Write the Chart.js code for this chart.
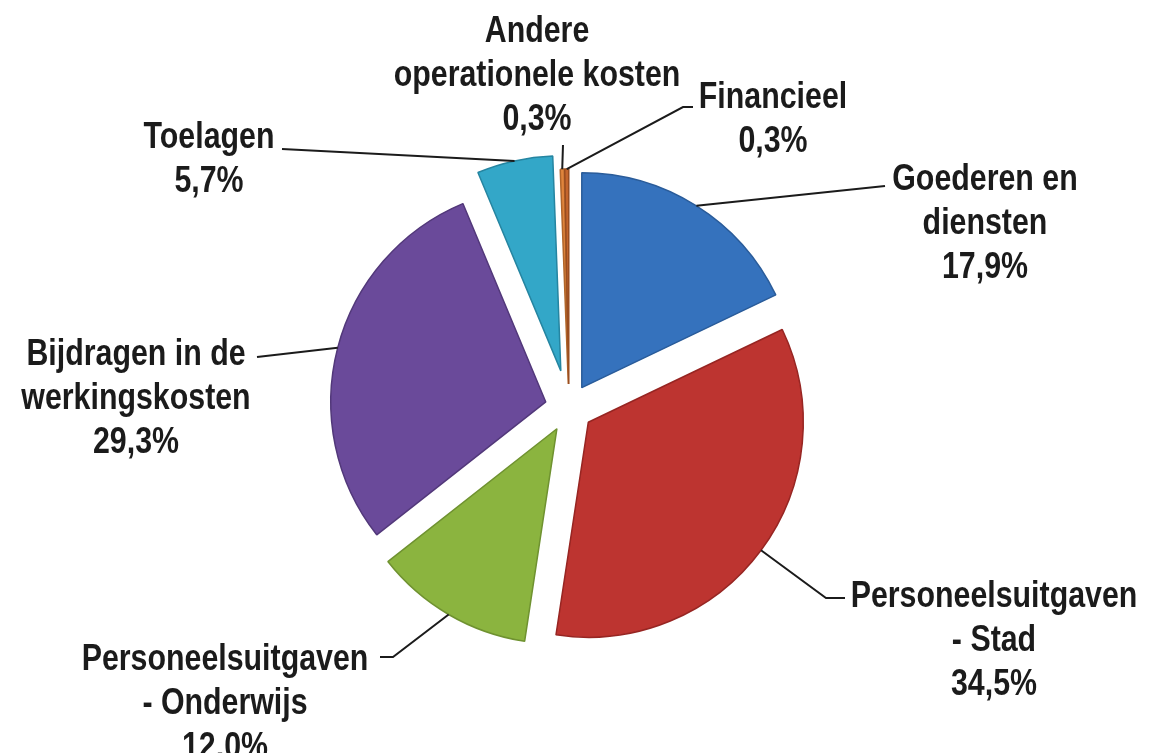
<!DOCTYPE html>
<html>
<head>
<meta charset="utf-8">
<script src="https://cdn.jsdelivr.net/npm/chart.js@4.4.1/dist/chart.umd.min.js"></script>
<style>
  html, body { margin: 0; padding: 0; background: #fff; }
  canvas { display: block; }
</style>
</head>
<body>
<canvas id="pieChart" width="1151" height="753"></canvas>
<script>
// Data
const categories = [
    'Goederen en diensten',
    'Personeelsuitgaven - Stad',
    'Personeelsuitgaven - Onderwijs',
    'Bijdragen in de werkingskosten',
    'Toelagen',
    'Andere operationele kosten',
    'Financieel'
];
const shares = [17.9, 34.5, 12.0, 29.3, 5.7, 0.3, 0.3];
const labelLines = [
    ['Goederen en', 'diensten'],
    ['Personeelsuitgaven', '- Stad'],
    ['Personeelsuitgaven', '- Onderwijs'],
    ['Bijdragen in de', 'werkingskosten'],
    ['Toelagen'],
    ['Andere', 'operationele kosten'],
    ['Financieel']
];

// Styles
const colors = ['#3572BD', '#BD3430', '#8BB43F', '#6A4A9A', '#33A7C8', '#E0843C', '#C4652C'];
const borders = ['#2A5C9A', '#972522', '#6F9230', '#52387A', '#2585A1', '#B0652A', '#9A4D20'];
const explode = [24, 24, 24, 24, 38, 24, 24];

// label text: centre x, first line y ; leader: path points after the arc anchor
const labelPos = [
    [985, 180], [994, 597], [225, 660], [136, 355], [209, 138], [537, 32], [773, 98]
];
const leaderPath = [
    [[885, 186]],
    [[826, 598], [845, 598]],
    [[393, 657], [380, 657]],
    [[257, 357]],
    [[282, 149]],
    [[563, 145]],
    [[683, 107], [693, 107]]
];

// Arial-Narrow look: Liberation Sans bold squeezed horizontally
const FONT = 'bold 37px "Liberation Sans", Arial, sans-serif';
const SQUEEZE = 0.82;
const LINE_H = 44;

function pct(v) {
    return v.toFixed(1).replace('.', ',') + '%';
}

// Draw each slice shifted outward (exploded pie)
const explodePlugin = {
    id: 'explode',
    beforeDatasetDraw(chart, args) {
        const ctx = chart.ctx;
        args.meta.data.forEach((arc, i) => {
            const mid = (arc.startAngle + arc.endAngle) / 2;
            ctx.save();
            ctx.translate(Math.cos(mid) * explode[i], Math.sin(mid) * explode[i]);
            arc.draw(ctx);
            ctx.restore();
        });
        return false;
    }
};

// Labels with leader lines
const labelPlugin = {
    id: 'sliceLabels',
    afterDraw(chart) {
        const ctx = chart.ctx;
        const arcs = chart.getDatasetMeta(0).data;
        ctx.save();
        arcs.forEach((arc, i) => {
            const mid = (arc.startAngle + arc.endAngle) / 2;
            const r = arc.outerRadius + explode[i];
            const ax = arc.x + Math.cos(mid) * r;
            const ay = arc.y + Math.sin(mid) * r;

            ctx.strokeStyle = '#1b1b1b';
            ctx.lineWidth = 2;
            ctx.beginPath();
            ctx.moveTo(ax, ay);
            leaderPath[i].forEach(p => ctx.lineTo(p[0], p[1]));
            ctx.stroke();

            const lines = labelLines[i].concat([pct(shares[i])]);
            ctx.font = FONT;
            ctx.fillStyle = '#1b1b1b';
            ctx.textAlign = 'center';
            ctx.textBaseline = 'middle';
            lines.forEach((t, k) => {
                ctx.save();
                ctx.translate(labelPos[i][0], labelPos[i][1] + k * LINE_H);
                ctx.scale(SQUEEZE, 1);
                ctx.fillText(t, 0, 0);
                ctx.restore();
            });
        });
        ctx.restore();
    }
};

const ctx = document.getElementById('pieChart').getContext('2d');
new Chart(ctx, {
    type: 'pie',
    data: {
        labels: categories,
        datasets: [{
            data: shares,
            backgroundColor: colors,
            borderColor: borders,
            borderWidth: 1.5,
            radius: 215
        }]
    },
    options: {
        responsive: false,
        animation: false,
        layout: {
            padding: { left: 0, right: 13, top: 63, bottom: 0 }
        },
        plugins: {
            legend: { display: false },
            tooltip: { enabled: false }
        }
    },
    plugins: [explodePlugin, labelPlugin]
});
</script>
</body>
</html>
